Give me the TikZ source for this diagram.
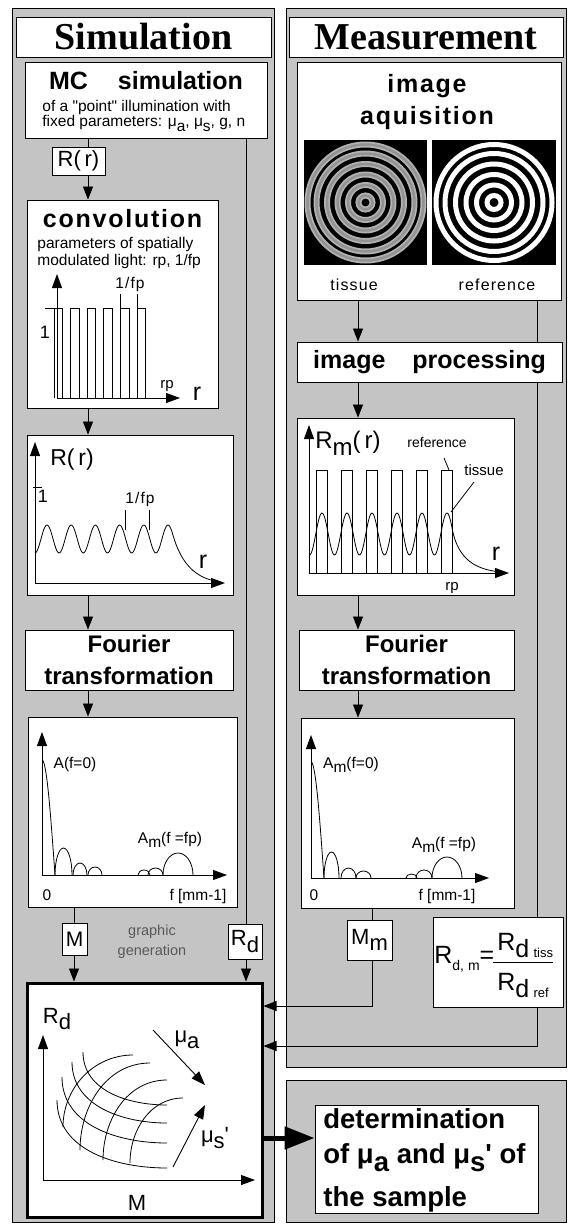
\documentclass[tikz,border=0pt]{standalone}
\usepackage{fontspec}
\setmainfont{Liberation Serif}
\newfontfamily\hv{Liberation Sans}
\newfontfamily\hvsp[LetterSpace=7]{Liberation Sans}
\usetikzlibrary{arrows.meta}

\definecolor{panelgray}{gray}{0.77}
\newcommand{\fsz}[1]{\fontsize{#1}{#1}\selectfont}
\newcommand{\lowr}[1]{\raisebox{-0.3em}{#1}}

\begin{document}
\begin{tikzpicture}[x=1pt, y=1pt, line width=0.8pt,
    box/.style={draw, fill=white, line width=0.9pt, inner sep=0pt},
    panel/.style={draw, fill=panelgray, line width=0.7pt},
    flow/.style={-{Triangle[length=13pt,width=10pt]}, line width=0.8pt},
    axis/.style={-{Triangle[length=14pt,width=10pt]}, line width=0.9pt},
    txt/.style={inner sep=0pt, anchor=base, font=\hv\fsz{15.5}},
    txtw/.style={txt, anchor=base west},
    head/.style={inner sep=0pt, anchor=base, font=\hv\bfseries\fsz{25}},
  ]

    \useasboundingbox (0,0) rectangle (568,-1225);

    % Panels
    \draw[panel] (12,-8) rectangle (274,-1222);
    \draw[panel] (286,-8) rectangle (566,-1067);
    \draw[panel] (286,-1080) rectangle (566,-1222);

    % Columns and rows of the connectors
    \coordinate (simx) at (88,0);
    \coordinate (specx) at (74,0);
    \coordinate (rdx) at (246,0);
    \coordinate (measx) at (358,0);
    \coordinate (mmx) at (372,0);
    \coordinate (rdmx) at (537,0);
    \coordinate (mmrow) at (0,-1006);
    \coordinate (rdmrow) at (0,-1046);
    \coordinate (detrow) at (0,-1138);

    % Simulation
    \node[box, minimum width=255, minimum height=40, font=\bfseries\fsz{38}] (simtitle) at (143.5,-37) {Simulation};

    \node[box, minimum width=242, minimum height=76] (mcsim) at (146,-100) {};
    \node[head] (mchead) at (146,-90) {MC\hspace{30pt}simulation};
    \node[txtw] (mcline1) at (42,-112) {of a "point" illumination with};
    \node[txtw] (mcline2) at (42,-127) {fixed parameters: μ\lowr{a}, μ\lowr{s}, g, n};

    \node[box, minimum width=53, minimum height=28, font=\hv\fsz{22}] (rr) at (78.5,-161) {R(\,r)};
    \draw (mcsim.south -| simx) -- (rr.north -| simx);

    % Convolution
    \node[box, minimum width=191, minimum height=208] (conv) at (122.5,-304) {};
    \draw[flow] (rr.south -| simx) -- (conv.north -| simx);
    \node[head, font=\hvsp\bfseries\fsz{25}] (convhead) at (122.5,-227) {convolution};
    \node[txtw] (convline1) at (37,-248) {parameters of spatially};
    \node[txtw] (convline2) at (37,-265) {modulated light: rp, 1/fp};
    \begin{scope}[shift={(57,-398)}]
        \draw[axis] (0,0) -- (0,124);
        \draw[axis] (0,0) -- (123,0);
        \foreach \k in {0,...,5}
            \draw ({-3+16.6*\k},0) -- ++(0,90) -- ++(8.5,0) -- ++(0,-90);
        \draw (-12,90) -- (3,90);
        \draw (63.4,90) -- (63.4,104);
        \draw (80,90) -- (80,104);
        \node[txt, font=\hv\fsz{18}] (convone) at (-12,60) {1};
        \node[txt, font=\hvsp\fsz{15.5}] (convper) at (73,110) {1/fp};
        \node[txt, font=\hv\fsz{15}] (convrp) at (110,10) {rp};
        \node[txt, font=\hv\fsz{25}] (convr) at (140,-2) {r};
    \end{scope}

    % R(r)
    \node[box, minimum width=206, minimum height=160] (rplot) at (130,-515) {};
    \draw[flow] (conv.south -| simx) -- (rplot.north -| simx);
    \begin{scope}[shift={(35,-583)}]
        \draw[axis] (0,0) -- (0,141);
        \draw[axis] (0,0) -- (190,0);
        \draw (-2,96) -- (7,96);
        \draw plot[domain=0:138, samples=140, smooth] (\x,{44+14*cos(14.876*(\x-12))})
            .. controls (146,20) and (160,4) .. (186,1);
        \draw (90,53) -- (90,73);
        \draw (114,53) -- (114,73);
        \node[txt, font=\hv\fsz{23}] (rrlabel) at (37,118) {R(\,r)};
        \node[txt, font=\hv\fsz{18}] (rrone) at (8,81) {1};
        \node[txt, font=\hvsp\fsz{15.5}] (rrper) at (105,80) {1/fp};
        \node[txt, font=\hv\fsz{25}] (rrr) at (168,15) {r};
    \end{scope}

    % Fourier transformation (simulation)
    \node[box, minimum width=208, minimum height=60, align=center, font=\hv\bfseries\fontsize{24}{32}\selectfont] (simft) at (129,-660) {Fourier\\transformation};
    \draw[flow] (rplot.south -| simx) -- (simft.north -| simx);

    \node[box, minimum width=209, minimum height=190] (simspec) at (132.5,-812) {};
    \draw[flow] (simft.south -| simx) -- (simspec.north -| simx);
    \begin{scope}[shift={(42,-875)}]
        \draw[axis] (0,0) -- (0,143);
        \draw[axis] (0,0) -- (185,0);
        \draw plot[domain=0:13, samples=30, smooth] (\x,{115*cos(90*\x/13)});
        \foreach \xa/\xb/\hh in {13/30/27, 31/45/12, 46/60/8, 96/108/5, 106/121/7, 121/151/22}
            \draw (\xa,0) arc[start angle=180, end angle=0, x radius={(\xb-\xa)/2}, y radius=\hh];
        \node[txt] (simaf0) at (33,107) {A(f=0)};
        \node[txt] (simafp) at (128,32) {A\lowr{m}(f =fp)};
        \node[txt] (simzero) at (5,-25) {0};
        \node[txt] (simfunit) at (156,-25) {f [mm-1]};
    \end{scope}

    % M and Rd
    \node[box, minimum width=25, minimum height=32, font=\hv\fsz{21}] (mbox) at (74.5,-939) {M};
    \draw (simspec.south -| specx) -- (mbox.north -| specx);
    \node[box, minimum width=34, minimum height=35, font=\hv\fsz{22}] (rdbox) at (245,-941.5) {R\lowr{d}};
    \draw (mcsim.south -| rdx) -- (rdbox.north -| rdx);
    \node[inner sep=0pt, align=center, font=\hv\fontsize{14.5}{20}\selectfont, text=black!65] (graphgen) at (152,-942) {graphic\\generation};

    % Graphic of Rd over M
    \node[box, line width=3pt, minimum width=235, minimum height=234] (bigbox) at (144.5,-1100) {};
    \draw[flow] (mbox.south -| specx) -- (bigbox.north -| specx);
    \draw[flow] (rdbox.south -| rdx) -- (bigbox.north -| rdx);
    \begin{scope}[shift={(43,-1180)}]
        \draw[axis] (0,0) -- (0,145);
        \draw[axis] (0,0) -- (212,0);
        \foreach \sx/\sy/\ey in {14/80/12, 19/103/37, 29/118/57, 40/128/75}
            \draw (\sx,\sy) to[out=-90, in=180] (124,\ey);
        \foreach \sx/\sy/\ex/\ey in {20/53/90/125, 37/30/107/117, 60/20/124/100, 87/17/140/82}
            \draw (\sx,\sy) to[out=90, in=180] (\ex,\ey);
        \draw[axis] (110,150) -- (162,95);
        \draw[axis] (130,13) -- (162,75);
        \node[txt, font=\hv\fsz{22}] (bigrd) at (14,157) {R\lowr{d}};
        \node[txt, font=\hv\fsz{22}] (bigmua) at (144,138) {μ\lowr{a}};
        \node[txt, font=\hv\fsz{22}] (bigmus) at (172,38) {μ\lowr{s}'};
        \node[txt, font=\hv\fsz{22}] (bigm) at (94,-30) {M};
    \end{scope}

    % Measurement
    \node[box, minimum width=274, minimum height=40, font=\bfseries\fsz{38}] (meastitle) at (426,-37) {Measurement};

    \node[box, minimum width=264, minimum height=238] (acq) at (429,-181) {};
    \node[head, font=\hvsp\bfseries\fsz{25}] (acqhead1) at (427,-93) {image};
    \node[head, font=\hvsp\bfseries\fsz{25}] (acqhead2) at (427,-125) {aquisition};
    % tissue image
    \begin{scope}[shift={(365.5,-202.5)}]
        \fill (-61.5,-62.5) rectangle (61.5,62.5);
        \foreach \r in {7,17.5,28,38.5,49,58}
            \draw[gray!60, line width=6pt] (0,0) circle (\r);
        \foreach \r in {7,17.5,28,38.5,49,58}
            \draw[gray!85, line width=2.5pt] (0,0) circle (\r);
    \end{scope}
    % reference image
    \begin{scope}[shift={(494,-202.5)}]
        \fill (-62,-62.5) rectangle (62,62.5);
        \foreach \r in {7,17.5,28,38.5,49,58}
            \draw[white, line width=5pt] (0,0) circle (\r);
    \end{scope}
    \node[txt, font=\hvsp\fsz{16}] (tisslabel) at (354,-290) {tissue};
    \node[txt, font=\hvsp\fsz{16}] (reflabel) at (497,-290) {reference};

    \node[box, minimum width=265, minimum height=40, font=\hv\bfseries\fsz{25}] (proc) at (429.5,-362) {image\hspace{27pt}processing};
    \draw[flow] (acq.south -| measx) -- (proc.north -| measx);
    \draw (acq.south -| rdmx) -- (proc.north -| rdmx);

    % Rm(r)
    \node[box, minimum width=217, minimum height=177] (rmplot) at (405.5,-506.5) {};
    \draw[flow] (proc.south -| measx) -- (rmplot.north -| measx);
    \begin{scope}[shift={(309,-573)}]
        \draw[axis] (0,0) -- (0,148);
        \draw[axis] (0,0) -- (200,0);
        \foreach \k in {0,...,5}
            \draw ({7+25*\k},0) -- ++(0,103) -- ++(11.5,0) -- ++(0,-103);
        \draw plot[domain=0:144, samples=150, smooth] (\x,{39+21*cos(14.4*(\x-13))})
            .. controls (150,15) and (165,3) .. (193,1);
        \draw (165,91) -- (142,61);
        \draw (135,115) -- (140,103);
        \node[txt, font=\hv\fsz{24}] (rmlabel) at (39,125) {R\lowr{m}(\,r)};
        \node[txt, font=\hv\fsz{14}] (rmref) at (128,126) {reference};
        \node[txt, font=\hv\fsz{15}] (rmtiss) at (175,98) {tissue};
        \node[txt, font=\hv\fsz{25}] (rmr) at (187,13) {r};
        \node[txt, font=\hv\fsz{15}] (rmrp) at (143,-17) {rp};
    \end{scope}

    % Fourier transformation (measurement)
    \node[box, minimum width=215, minimum height=60, align=center, font=\hv\bfseries\fontsize{24}{32}\selectfont] (measft) at (406.5,-660) {Fourier\\transformation};
    \draw[flow] (rmplot.south -| measx) -- (measft.north -| measx);

    \node[box, minimum width=213, minimum height=190] (measspec) at (407.5,-813) {};
    \draw[flow] (measft.south -| measx) -- (measspec.north -| measx);
    \begin{scope}[shift={(311,-878)}]
        \draw[axis] (0,0) -- (0,143);
        \draw[axis] (0,0) -- (178,0);
        \draw plot[domain=0:13, samples=30, smooth] (\x,{116*cos(90*\x/13)});
        \foreach \xa/\xb/\hh in {13/28/26, 30/45/10, 45/60/7, 95/106/4, 105/121/8, 121/151/21}
            \draw (\xa,0) arc[start angle=180, end angle=0, x radius={(\xb-\xa)/2}, y radius=\hh];
        \node[txt] (measaf0) at (40,110) {A\lowr{m}(f=0)};
        \node[txt] (measafp) at (133,30) {A\lowr{m}(f =fp)};
        \node[txt] (measzero) at (3,-22) {0};
        \node[txt] (measfunit) at (136,-22) {f [mm-1]};
    \end{scope}

    % Mm and Rd,m
    \node[box, minimum width=45, minimum height=40, font=\hv\fsz{22}] (mmbox) at (369.5,-940) {M\lowr{m}};
    \draw (measspec.south -| mmx) -- (mmbox.north -| mmx);

    \node[box, minimum width=130, minimum height=90] (rdmbox) at (498,-962) {};
    \node[txtw, font=\hv\fsz{25}] (rdmlhs) at (434,-963) {R\lowr{\fsz{14}d, m}=};
    \node[txtw, font=\hv\fsz{25}] (rdmnum) at (497,-950) {R\lowr{d\,{\fsz{13}tiss}}};
    \node[txtw, font=\hv\fsz{25}] (rdmden) at (497,-990) {R\lowr{d\,{\fsz{13}ref}}};
    \draw (493,-962) -- (553,-962);
    \draw (proc.south -| rdmx) -- (rdmbox.north -| rdmx);

    \draw[flow] (mmbox.south -| mmx) |- (bigbox.east |- mmrow);
    \draw[flow] (rdmbox.south -| rdmx) |- (bigbox.east |- rdmrow);

    % Determination
    \node[box, minimum width=223, minimum height=108] (detbox) at (426.5,-1159) {};
    \node[inner sep=0pt, anchor=north west, align=left, font=\hv\bfseries\fontsize{27.5}{35}\selectfont] (dettext) at (323,-1108) {determination\\of μ\lowr{a} and μ\lowr{s}' of\\[8pt]the sample};
    \draw[-{Triangle[length=30pt,width=22pt]}, line width=5pt] (bigbox.east |- detrow) -- (detbox.west |- detrow);
\end{tikzpicture}
\end{document}
